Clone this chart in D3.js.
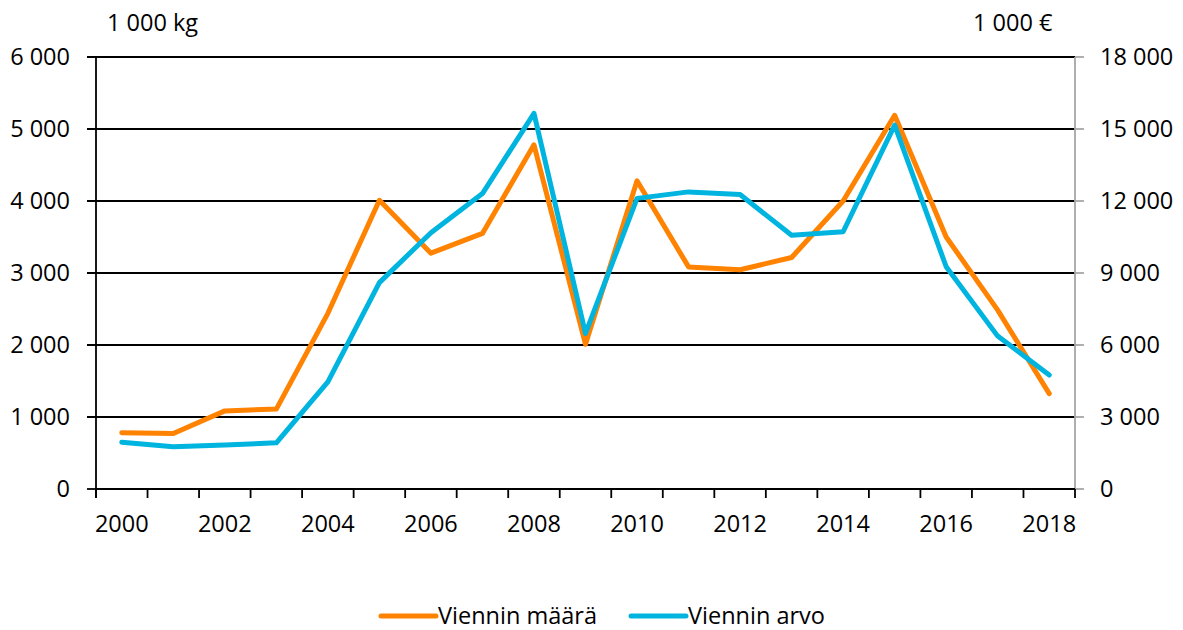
<!DOCTYPE html>
<html>
<head>
<meta charset="utf-8">
<script src="https://cdn.jsdelivr.net/npm/d3@7"></script>
<style>
  body { margin: 0; background: #fff; }
  text { font-family: "Open Sans", sans-serif; font-size: 23.5px; fill: #000; }
</style>
</head>
<body>
<svg id="chart" width="1183" height="630"></svg>
<script>
const years = d3.range(2000, 2019);
// 1000 kg, left axis
const maara = [780, 770, 1085, 1110, 2440, 4010, 3275, 3550, 4780, 2010, 4280,
  3085, 3045, 3215, 4000, 5190, 3500, 2485, 1325];
// 1000 €, right axis
const arvo = [1950, 1760, 1830, 1925, 4460, 8600, 10680, 12310, 15650, 6480, 12110,
  12380, 12270, 10570, 10720, 15160, 9260, 6370, 4750];
const leftTicks = [0, 1000, 2000, 3000, 4000, 5000, 6000];
const rightTicks = [0, 3000, 6000, 9000, 12000, 15000, 18000];
const series = [
  { name: 'Viennin määrä', values: maara, axis: 'left', color: '#ff8200' },
  { name: 'Viennin arvo', values: arvo, axis: 'right', color: '#00b4e0' },
];

const LEFT = 96;
const RIGHT = 1075;
const TOP = 57;
const BOTTOM = 489;

const fi = d3.formatLocale({ decimal: ',', thousands: ' ', grouping: [3], currency: ['', ' €'] });
const fmt = fi.format(',d');

const svg = d3.select('#chart');

const x = d3.scaleBand().domain(years).range([LEFT, RIGHT]).padding(0);
const yLeft = d3.scaleLinear().domain([0, 6000]).range([BOTTOM, TOP]);
const yRight = d3.scaleLinear().domain([0, 18000]).range([BOTTOM, TOP]);

// gridlines + left ticks
svg.append('g')
  .selectAll('line')
  .data(leftTicks.filter((d) => d > 0))
  .enter()
    .append('line')
    .attr('x1', LEFT - 9)
    .attr('x2', RIGHT)
    .attr('y1', (d) => yLeft(d))
    .attr('y2', (d) => yLeft(d))
    .attr('stroke', '#000')
    .attr('stroke-width', 1.8);

// right axis (grey)
const rightAxis = svg.append('g');
rightAxis.append('line')
  .attr('x1', RIGHT).attr('x2', RIGHT)
  .attr('y1', TOP).attr('y2', BOTTOM)
  .attr('stroke', '#a6a6a6').attr('stroke-width', 1.8);
rightAxis.selectAll('line.tick')
  .data(rightTicks)
  .enter()
    .append('line')
    .classed('tick', true)
    .attr('x1', RIGHT)
    .attr('x2', RIGHT + 9)
    .attr('y1', (d) => yRight(d))
    .attr('y2', (d) => yRight(d))
    .attr('stroke', '#a6a6a6')
    .attr('stroke-width', 1.8);
rightAxis.selectAll('text')
  .data(rightTicks)
  .enter()
    .append('text')
    .attr('x', 1100)
    .attr('y', (d) => yRight(d))
    .attr('dy', '0.36em')
    .text((d) => fmt(d));

// left axis
const leftAxis = svg.append('g');
leftAxis.append('line')
  .attr('x1', LEFT).attr('x2', LEFT)
  .attr('y1', TOP).attr('y2', BOTTOM + 9)
  .attr('stroke', '#000').attr('stroke-width', 1.8);
leftAxis.append('line')
  .attr('x1', LEFT - 9).attr('x2', LEFT)
  .attr('y1', BOTTOM).attr('y2', BOTTOM)
  .attr('stroke', '#000').attr('stroke-width', 1.8);
leftAxis.selectAll('text')
  .data(leftTicks)
  .enter()
    .append('text')
    .attr('x', 70)
    .attr('y', (d) => yLeft(d))
    .attr('dy', '0.36em')
    .attr('text-anchor', 'end')
    .text((d) => fmt(d));

// x axis
const xAxis = svg.append('g');
xAxis.append('line')
  .attr('x1', LEFT).attr('x2', RIGHT)
  .attr('y1', BOTTOM).attr('y2', BOTTOM)
  .attr('stroke', '#000').attr('stroke-width', 1.8);
xAxis.selectAll('line.tick')
  .data(years.map((d) => x(d)).concat([x(years[years.length - 1]) + x.bandwidth()]))
  .enter()
    .append('line')
    .classed('tick', true)
    .attr('x1', (d) => d)
    .attr('x2', (d) => d)
    .attr('y1', BOTTOM)
    .attr('y2', BOTTOM + 9)
    .attr('stroke', '#000')
    .attr('stroke-width', 1.8);
xAxis.selectAll('text')
  .data(years.filter((d) => d % 2 === 0))
  .enter()
    .append('text')
    .attr('x', (d) => x(d) + x.bandwidth() / 2)
    .attr('y', 532)
    .attr('text-anchor', 'middle')
    .text((d) => d);

// units
svg.append('text').attr('x', 107).attr('y', 31).text('1 000 kg');
svg.append('text').attr('x', 973).attr('y', 31).text('1 000 €');

// lines
const lineFor = (s) => {
  const y = s.axis === 'left' ? yLeft : yRight;
  return d3.line()
    .x((d, i) => x(years[i]) + x.bandwidth() / 2)
    .y((d) => y(d))(s.values);
};

svg.append('g')
  .selectAll('path')
  .data(series)
  .enter()
    .append('path')
    .attr('d', lineFor)
    .attr('fill', 'none')
    .attr('stroke', (d) => d.color)
    .attr('stroke-width', 5)
    .attr('stroke-linejoin', 'round')
    .attr('stroke-linecap', 'round');

// legend
const legendX = [381, 631];
const legend = svg.append('g')
  .selectAll('g')
  .data(series)
  .enter()
    .append('g')
    .attr('transform', (d, i) => `translate(${legendX[i]}, 616)`);
legend.append('line')
  .attr('x1', 0).attr('x2', 55)
  .attr('y1', 0).attr('y2', 0)
  .attr('stroke', (d) => d.color)
  .attr('stroke-width', 5)
  .attr('stroke-linecap', 'round');
legend.append('text')
  .attr('x', 57)
  .attr('dy', '0.36em')
  .text((d) => d.name);
</script>
</body>
</html>
